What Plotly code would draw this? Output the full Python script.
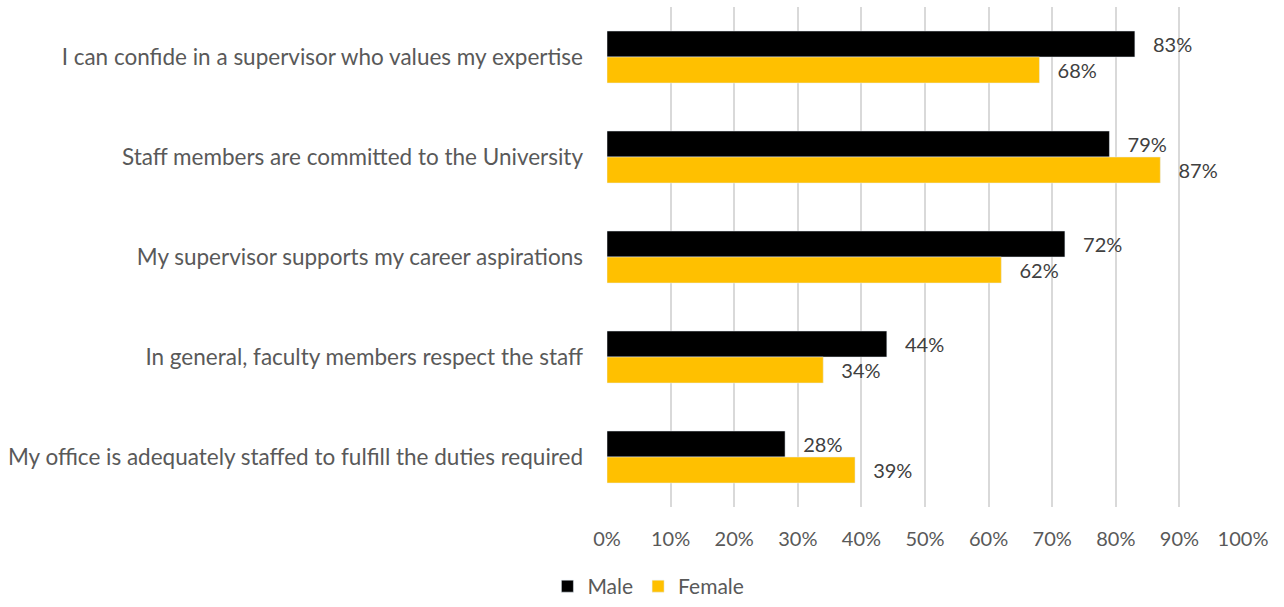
import plotly.graph_objects as go

# Survey statements (top to bottom)
statements = [
    "I can confide in a supervisor who values my expertise",
    "Staff members are committed to the University",
    "My supervisor supports my career aspirations",
    "In general, faculty members respect the staff",
    "My office is adequately staffed to fulfill the duties required",
]
male = [83, 79, 72, 44, 28]
female = [68, 87, 62, 34, 39]
x_ticks = [0, 10, 20, 30, 40, 50, 60, 70, 80, 90, 100]

FONT = "Lato, Open Sans, sans-serif"
PAD = "\u2002 "  # gap between bar end and its value label

fig = go.Figure()
fig.add_trace(go.Bar(
    name="Male", y=statements, x=male, orientation="h",
    marker=dict(color="#000000"),
    text=[f"{PAD}{v}%" for v in male], textposition="outside",
    textfont=dict(size=20, color="#404040", family=FONT),
    cliponaxis=False,
))
fig.add_trace(go.Bar(
    name="Female", y=statements, x=female, orientation="h",
    marker=dict(color="#FFC000"),
    text=[f"{PAD}{v}%" for v in female], textposition="outside",
    textfont=dict(size=20, color="#404040", family=FONT),
    cliponaxis=False,
))

fig.update_layout(
    width=1284, height=607,
    margin=dict(l=607, r=41, t=7, b=100),
    barmode="group", bargap=0.48, bargroupgap=0,
    plot_bgcolor="white", paper_bgcolor="white",
    font=dict(family=FONT, color="#595959", size=20),
    xaxis=dict(
        range=[0, 100], tickvals=x_ticks,
        ticktext=[f"{v}%" for v in x_ticks],
        showgrid=True, gridcolor="#D9D9D9", gridwidth=2,
        zeroline=False, showline=False,
        tickfont=dict(size=20, color="#595959"),
        ticklabelstandoff=18,
    ),
    yaxis=dict(
        autorange="reversed", showgrid=False, showline=False,
        tickfont=dict(size=22.5, color="#595959"),
        ticklabelstandoff=23,
    ),
    showlegend=True,
    legend=dict(
        orientation="h", xref="container", yref="container",
        x=0.505, xanchor="center", y=0.0, yanchor="bottom",
        font=dict(size=21, color="#595959"),
        itemwidth=30, traceorder="normal",
    ),
)

fig.write_html("out.html")
